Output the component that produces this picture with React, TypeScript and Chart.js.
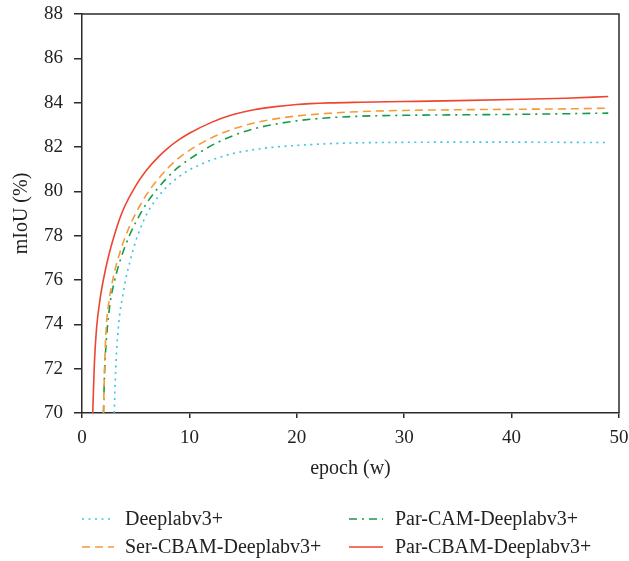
import { useEffect, useRef } from "react";
import { Chart, registerables } from "chart.js";

Chart.register(...registerables);

// ---- Data ----
const seriesNames = ["Deeplabv3+", "Ser-CBAM-Deeplabv3+", "Par-CAM-Deeplabv3+", "Par-CBAM-Deeplabv3+"];

const deeplabEpochs = [3, 3.1, 3.25, 3.5, 3.8, 4.1, 4.5, 5, 5.5, 6, 7, 8, 9, 10, 11, 12, 14, 16, 18, 20, 23, 26, 30, 35, 40, 45, 49];
const deeplabValues = [70, 71.5, 73.0, 74.4, 75.3, 76.1, 76.9, 77.75, 78.4, 78.95, 79.7, 80.25, 80.65, 80.97, 81.2, 81.4, 81.7, 81.88, 82.0, 82.07, 82.15, 82.19, 82.21, 82.22, 82.22, 82.21, 82.2];

const serEpochs = [2, 2.1, 2.25, 2.5, 3, 3.5, 4, 4.5, 5, 6, 7, 8, 9, 10, 12, 14, 16, 18, 20, 23, 26, 30, 35, 40, 45, 49];
const serValues = [70, 72.0, 73.8, 75.0, 76.3, 77.2, 77.9, 78.5, 79.0, 79.85, 80.5, 81.05, 81.5, 81.85, 82.4, 82.8, 83.08, 83.27, 83.4, 83.52, 83.6, 83.65, 83.68, 83.7, 83.72, 83.75];

const parCamEpochs = [2, 2.1, 2.3, 2.6, 3, 3.5, 4, 4.5, 5, 6, 7, 8, 9, 10, 12, 14, 16, 18, 20, 23, 26, 30, 35, 40, 45, 49];
const parCamValues = [70, 71.8, 73.5, 74.9, 75.9, 76.8, 77.5, 78.1, 78.6, 79.45, 80.1, 80.65, 81.1, 81.45, 82.05, 82.5, 82.82, 83.03, 83.18, 83.32, 83.39, 83.43, 83.45, 83.47, 83.5, 83.53];

const parCbamEpochs = [1, 1.15, 1.35, 1.7, 2.2, 2.7, 3, 3.5, 4, 5, 6, 7, 8, 9, 10, 12, 14, 16, 18, 20, 23, 26, 30, 35, 40, 45, 49];
const parCbamValues = [70, 72.2, 73.8, 75.2, 76.5, 77.5, 78.0, 78.75, 79.35, 80.25, 80.95, 81.5, 81.95, 82.32, 82.62, 83.1, 83.45, 83.68, 83.82, 83.92, 83.99, 84.02, 84.05, 84.09, 84.14, 84.2, 84.28];

const xTicks = [0, 10, 20, 30, 40, 50];
const yTicks = [70, 72, 74, 76, 78, 80, 82, 84, 86, 88];

const FONT = "'Liberation Serif', 'DejaVu Serif', serif";
const AXIS_COLOR = "#2b2b2b";
const TEXT_COLOR = "#222222";

function toPoints(xs: number[], ys: number[]) {
  return xs.map((x, i) => ({ x, y: ys[i] }));
}

const frameAndLegend = {
  id: "frameAndLegend",
  afterDraw(chart: any) {
    const { ctx, chartArea } = chart;
    ctx.save();
    ctx.strokeStyle = AXIS_COLOR;
    ctx.lineWidth = 1.5;
    ctx.beginPath();
    ctx.moveTo(chartArea.left, chartArea.top);
    ctx.lineTo(chartArea.right, chartArea.top);
    ctx.lineTo(chartArea.right, chartArea.bottom);
    ctx.stroke();

    const cols = [
      { lx0: chartArea.left, lx1: chartArea.left + 32, tx: chartArea.left + 43 },
      { lx0: chartArea.left + 267, lx1: chartArea.left + 301, tx: chartArea.left + 313 },
    ];
    const rows = [chartArea.bottom + 106, chartArea.bottom + 134];
    const place = [
      [0, 0],
      [0, 1],
      [1, 0],
      [1, 1],
    ];
    chart.data.datasets.forEach((ds: any, i: number) => {
      const [c, r] = place[i];
      const col = cols[c];
      const y = rows[r];
      ctx.strokeStyle = ds.borderColor;
      ctx.lineWidth = ds.borderWidth;
      ctx.setLineDash(ds.borderDash || []);
      ctx.beginPath();
      ctx.moveTo(col.lx0, y);
      ctx.lineTo(col.lx1, y);
      ctx.stroke();
      ctx.setLineDash([]);
      ctx.fillStyle = TEXT_COLOR;
      ctx.font = `20px ${FONT}`;
      ctx.textBaseline = "middle";
      ctx.textAlign = "left";
      ctx.fillText(ds.label, col.tx, y + 1);
    });
    ctx.restore();
  },
};

export default function App() {
  const ref = useRef<HTMLCanvasElement>(null);

  useEffect(() => {
    if (!ref.current) return;
    const common = {
      borderWidth: 1.6,
      pointRadius: 0,
      fill: false,
      cubicInterpolationMode: "monotone" as const,
      tension: 0.4,
    };
    const chart = new Chart(ref.current, {
      type: "line",
      data: {
        datasets: [
          {
            ...common,
            label: seriesNames[0],
            data: toPoints(deeplabEpochs, deeplabValues),
            borderColor: "#3EC3E3",
            borderDash: [2, 4.5],
          },
          {
            ...common,
            label: seriesNames[1],
            data: toPoints(serEpochs, serValues),
            borderColor: "#F49B38",
            borderDash: [8, 5],
          },
          {
            ...common,
            label: seriesNames[2],
            data: toPoints(parCamEpochs, parCamValues),
            borderColor: "#169B48",
            borderDash: [8, 5, 2, 5],
          },
          {
            ...common,
            label: seriesNames[3],
            data: toPoints(parCbamEpochs, parCbamValues),
            borderColor: "#EE4530",
          },
        ],
      },
      options: {
        animation: false,
        responsive: true,
        maintainAspectRatio: false,
        layout: { padding: { left: 0, right: 10, top: 14, bottom: 78 } },
        plugins: {
          legend: { display: false },
          tooltip: { enabled: false },
        },
        scales: {
          x: {
            type: "linear",
            min: 0,
            max: 50,
            afterBuildTicks: (scale: any) => {
              scale.ticks = xTicks.map((v) => ({ value: v }));
            },
            afterFit: (scale: any) => {
              scale.height = 70;
              scale.paddingLeft = 0;
              scale.paddingRight = 0;
            },
            ticks: {
              font: { family: FONT, size: 19 },
              color: TEXT_COLOR,
              padding: 9,
              maxRotation: 0,
            },
            grid: {
              display: true,
              drawOnChartArea: false,
              drawTicks: true,
              tickLength: 5,
              color: AXIS_COLOR,
              lineWidth: 1.5,
            },
            border: { display: true, color: AXIS_COLOR, width: 1.5 },
            title: {
              display: true,
              text: "epoch (w)",
              font: { family: FONT, size: 20 },
              color: TEXT_COLOR,
              padding: { top: 0, bottom: 2 },
            },
          },
          y: {
            type: "linear",
            min: 70,
            max: 88,
            afterBuildTicks: (scale: any) => {
              scale.ticks = yTicks.map((v) => ({ value: v }));
            },
            afterFit: (scale: any) => {
              scale.width = 82;
              scale.paddingTop = 0;
              scale.paddingBottom = 0;
            },
            ticks: {
              font: { family: FONT, size: 19 },
              color: TEXT_COLOR,
              padding: 11,
            },
            grid: {
              display: true,
              drawOnChartArea: false,
              drawTicks: true,
              tickLength: 8,
              color: AXIS_COLOR,
              lineWidth: 1.5,
            },
            border: { display: true, color: AXIS_COLOR, width: 1.5 },
            title: {
              display: true,
              text: "mIoU (%)",
              font: { family: FONT, size: 20 },
              color: TEXT_COLOR,
              padding: { top: 10, bottom: 0 },
            },
          },
        },
      },
      plugins: [frameAndLegend],
    });
    return () => chart.destroy();
  }, []);

  return (
    <div style={{ position: "fixed", left: 0, top: 0, width: 629, height: 561 }}>
      <canvas ref={ref} />
    </div>
  );
}
